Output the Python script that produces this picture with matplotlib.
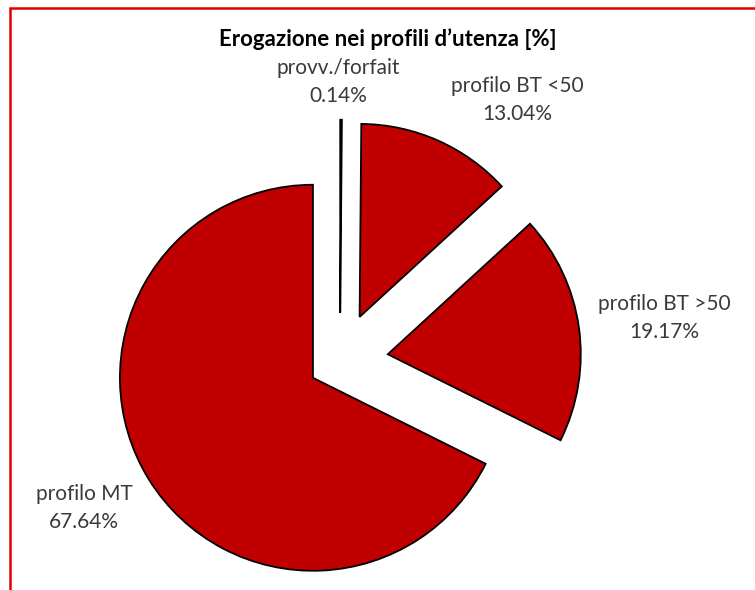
import matplotlib.pyplot as plt
from matplotlib.patches import Rectangle

# data
categories = ['provv./forfait', 'profilo BT <50', 'profilo BT >50', 'profilo MT']
shares = [0.14, 13.04, 19.17, 67.64]
pct_labels = ['0.14%', '13.04%', '19.17%', '67.64%']
explode = [0.25, 0.25, 0.25, 0.165]

# label centres (axis units, pie radius = 1)
label_pos = [(-0.01, 1.446), (0.917, 1.352), (1.68, 0.223), (-1.325, -0.762)]

plt.rcParams['font.family'] = ['Lato', 'DejaVu Sans']

fig = plt.figure(figsize=(7.55, 5.9), dpi=100)
ax = fig.add_axes([0, 0, 1, 1])

ax.pie(shares, explode=explode, startangle=90, counterclock=False,
       colors=['#C00000'] * len(shares),
       wedgeprops=dict(edgecolor='black', linewidth=1.3, joinstyle='miter'))

for (x, y), cat, pct in zip(label_pos, categories, pct_labels):
    ax.text(x, y, cat + '\n' + pct, ha='center', va='center',
            fontsize=15, color='#3a3a3a', linespacing=1.5)

ax.set_xlim(-340 / 193, (755 - 340) / 193)
ax.set_ylim(-(590 - 361) / 193, 361 / 193)
ax.set_aspect('equal', adjustable='box')
ax.axis('off')

fig.text(388 / 755, 1 - 39 / 590, 'Erogazione nei profili d\u2019utenza [%]',
         ha='center', va='center', fontsize=16, fontweight='bold', color='black')

# red frame (right and bottom edges fall outside the image)
fig.patches.append(Rectangle((9.5 / 755, -0.2), 1.5, 1.2 - 7.5 / 590,
                             transform=fig.transFigure, fill=False,
                             edgecolor='#E00000', linewidth=1.8))

plt.savefig('out.png', dpi=100)
